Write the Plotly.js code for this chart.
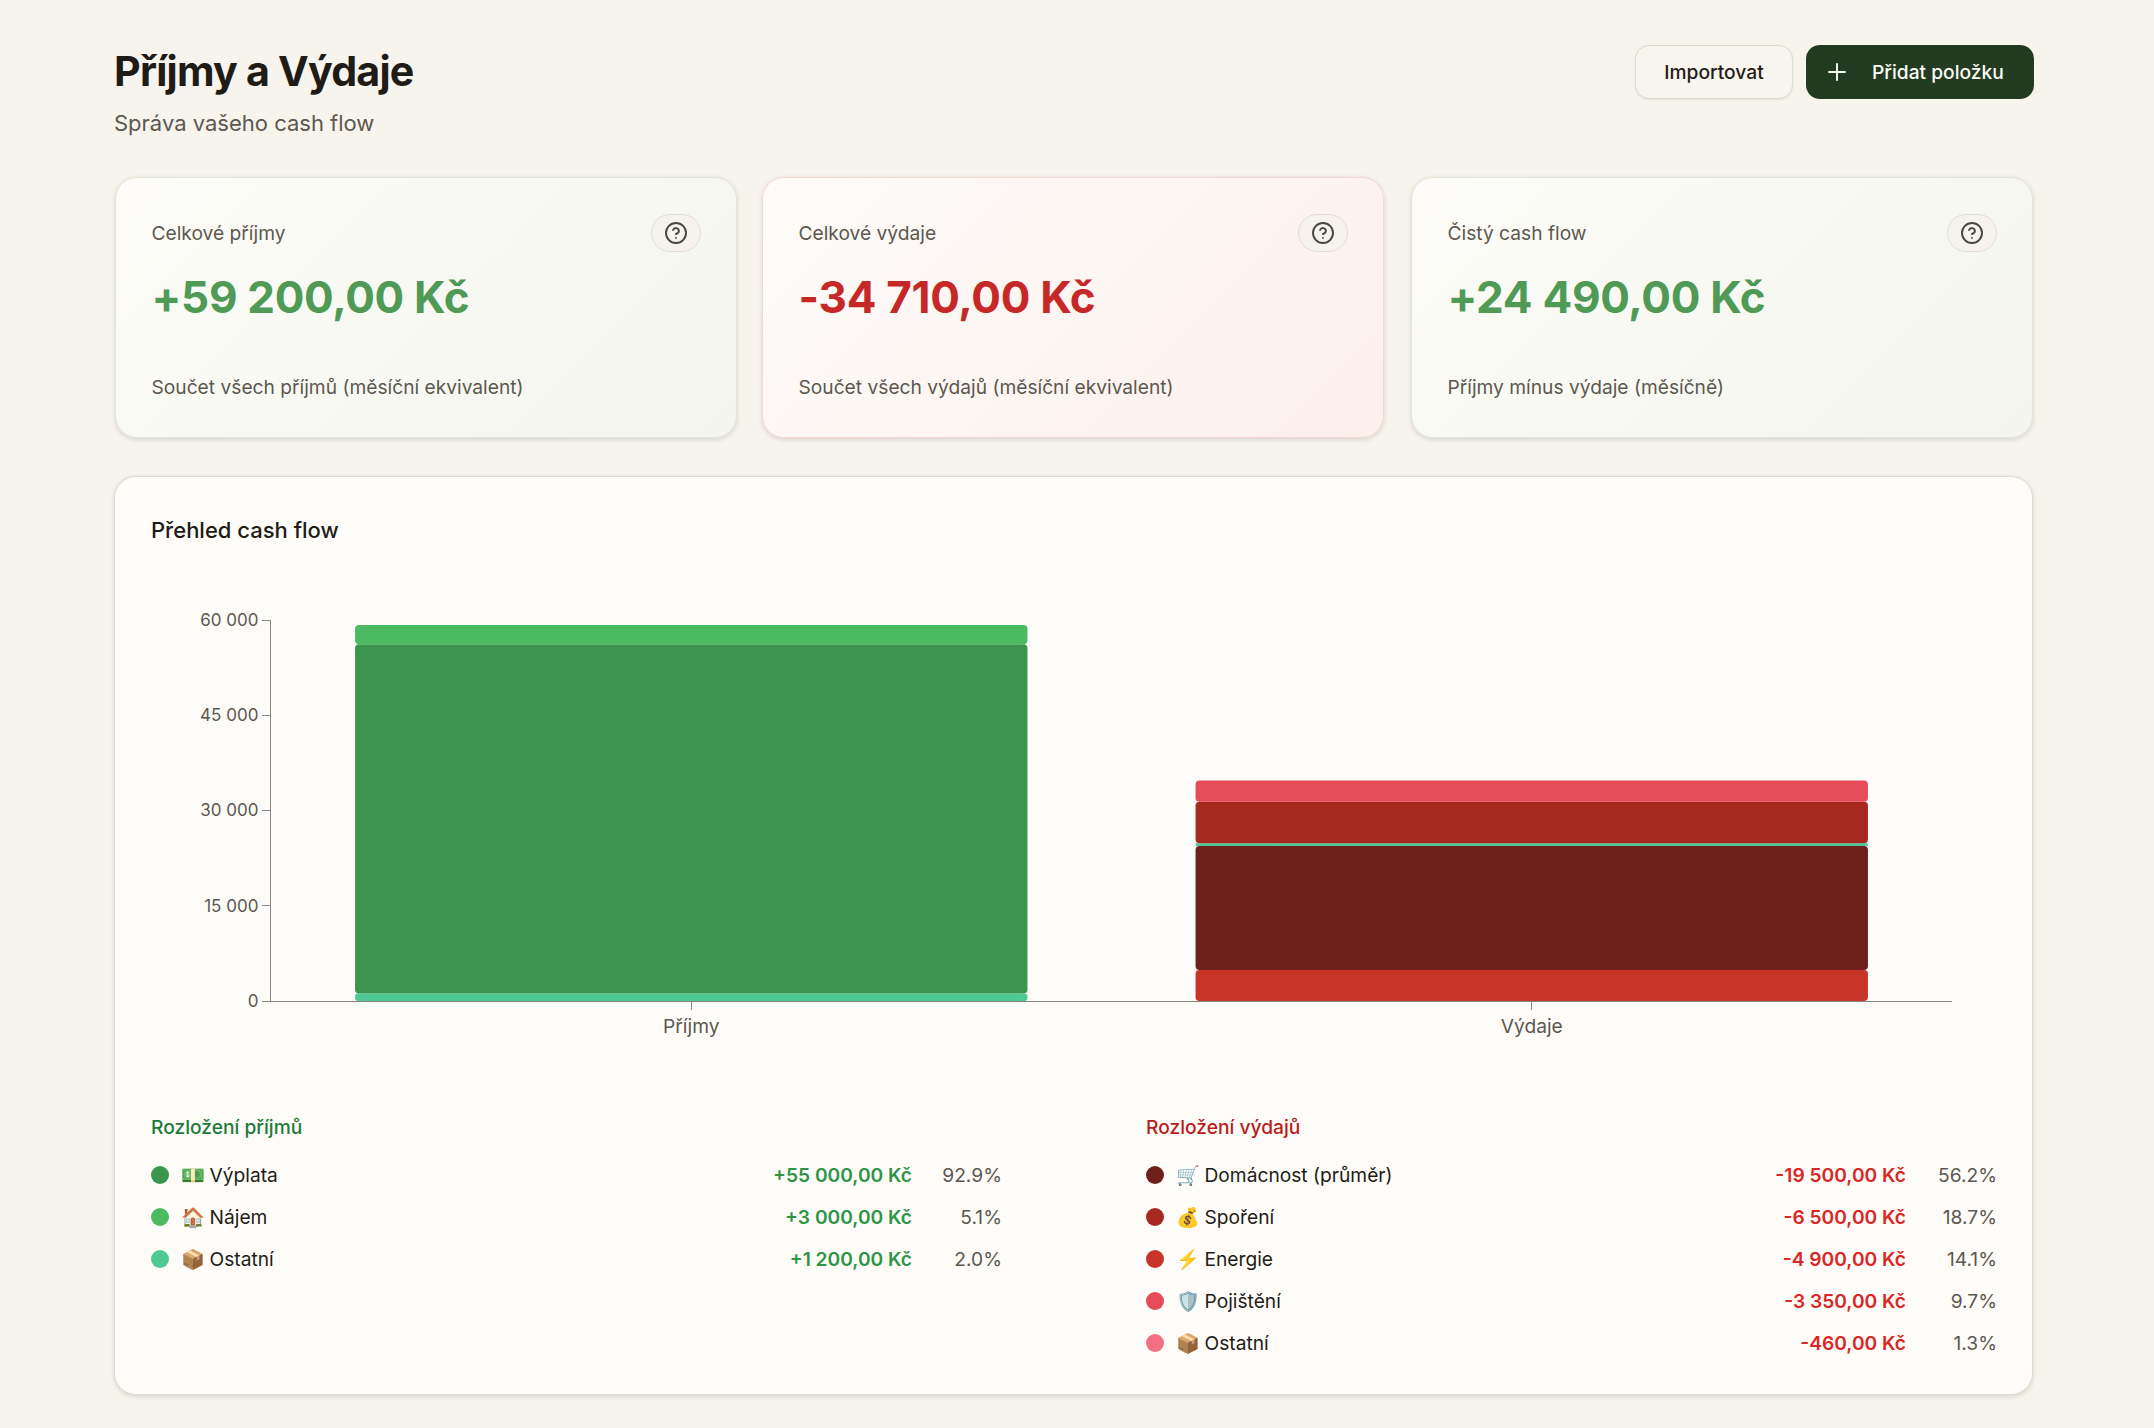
<!DOCTYPE html>
<html lang="cs"><head><meta charset="utf-8">
<script src="https://cdn.plot.ly/plotly-3.0.1.min.js"></script>
<style>
html,body{margin:0;padding:0;background:#f7f3ed;width:2154px;height:1428px;overflow:hidden;font-family:Inter,"Noto Sans",sans-serif;color:#1f1c17}
.a{position:absolute;white-space:nowrap}
.card{position:absolute;top:177px;height:261px;width:622px;box-sizing:border-box;border-radius:22px;box-shadow:0 1.4px 4px rgba(60,50,30,.14)}
.g{background:linear-gradient(135deg,#fdfcf8 0%,#f3f5ee 100%);border:1.4px solid #dfe6da}
.r{background:linear-gradient(135deg,#fdfbf8 0%,#fcf0ed 100%);border:1.4px solid #f4d7d4}
.main{position:absolute;left:114px;top:476px;width:1919px;height:919px;box-sizing:border-box;background:#fdfcf8;border:1.4px solid #dfdbd3;border-radius:22px;box-shadow:0 1.4px 4px rgba(60,50,30,.14)}
.lab{font-size:19.2px;line-height:26px;color:#5c5850}
.val{font-size:44px;line-height:56px;font-weight:700;letter-spacing:-.3px}
.help{position:absolute;top:214px;width:50px;height:38px;box-sizing:border-box;border-radius:19px;background:#f6f2ec;border:1.4px solid #e3ded6;display:flex;align-items:center;justify-content:center}
.btn{position:absolute;top:45px;height:54px;box-sizing:border-box;border-radius:14px;font-size:19.2px;font-weight:500;line-height:52px}
.dot{position:absolute;width:18px;height:18px;border-radius:50%}
.row{font-size:19.2px;line-height:26px}
.amt{font-size:19.2px;line-height:26px;font-weight:600;text-align:right}
.pct{font-size:19.2px;line-height:26px;color:#5c5850;text-align:right}
#plot{position:absolute;left:114px;top:560px;width:1919px;height:500px}
</style></head><body>
<div class="a" style="left:114px;top:43px;font-size:41.2px;line-height:56px;font-weight:700;letter-spacing:-.8px">Příjmy a Výdaje</div>
<div class="a" style="left:114px;top:108px;font-size:22px;line-height:30px;color:#5c5850">Správa vašeho cash flow</div>
<div class="btn" style="left:1635px;width:158px;background:#f8f4ee;border:1.4px solid #dfdad2;box-shadow:0 1px 2px rgba(60,50,30,.08);text-align:center">Importovat</div>
<div class="btn" style="left:1806px;width:228px;background:#233b20;color:#fdfcf8;line-height:54px"><svg style="position:absolute;left:20px;top:16px" width="22" height="22" viewBox="0 0 22 22" fill="none" stroke="#fdfcf8" stroke-width="1.9" stroke-linecap="round"><path d="M11 3V19M3 11H19"/></svg><span style="position:absolute;left:66px">Přidat položku</span></div>
<div id="cards"></div>
<div class="main"></div>
<div class="a" style="left:151px;top:515px;font-size:22px;line-height:30px;font-weight:500">Přehled cash flow</div>
<div id="plot"></div>
<div id="legend"></div>
<script>
// cards
var cardTitles = ["Celkové příjmy","Celkové výdaje","Čistý cash flow"];
var cardValues = ["+59 200,00 Kč","-34 710,00 Kč","+24 490,00 Kč"];
var cardNotes = ["Součet všech příjmů (měsíční ekvivalent)","Součet všech výdajů (měsíční ekvivalent)","Příjmy mínus výdaje (měsíčně)"];
var cardTone = ["g","r","g"];
var cardColor = ["#4f9a55","#c62828","#4f9a55"];
var cardLeft = [115,762,1411];
// chart
var categories = ["Příjmy","Výdaje"];
var seriesNames = ["Ostatní","Výplata","Nájem","Energie","Domácnost (průměr)","Ostatní","Spoření","Pojištění"];
var seriesCategory = ["Příjmy","Příjmy","Příjmy","Výdaje","Výdaje","Výdaje","Výdaje","Výdaje"];
var seriesValues = [1200,55000,3000,4900,19500,460,6500,3350];
var seriesColors = ["#4fc994","#3c954e","#4bba60","#c93428","#6e211c","#4fc994","#a5291f","#e64b59"];
var yTicks = [0,15000,30000,45000,60000];
var yTickLabels = ["0","15 000","30 000","45 000","60 000"];
// legends
var incomeIcons = ["💵","🏠","📦"];
var incomeNames = ["Výplata","Nájem","Ostatní"];
var incomeAmounts = ["+55 000,00 Kč","+3 000,00 Kč","+1 200,00 Kč"];
var incomePct = ["92.9%","5.1%","2.0%"];
var incomeDots = ["#3c954e","#4bba60","#4fc994"];
var expenseIcons = ["🛒","💰","⚡","🛡️","📦"];
var expenseNames = ["Domácnost (průměr)","Spoření","Energie","Pojištění","Ostatní"];
var expenseAmounts = ["-19 500,00 Kč","-6 500,00 Kč","-4 900,00 Kč","-3 350,00 Kč","-460,00 Kč"];
var expensePct = ["56.2%","18.7%","14.1%","9.7%","1.3%"];
var expenseDots = ["#6e211c","#a5291f","#c93428","#e64b59","#f27083"];

function el(cls,style,html,parent){var d=document.createElement('div');d.className=cls;d.style.cssText=style;d.innerHTML=html;(parent||document.body).appendChild(d);return d;}
var cards=document.getElementById('cards');
cardTitles.forEach(function(t,i){
  var L=cardLeft[i];
  el('card '+cardTone[i],'left:'+L+'px','',cards);
  el('a lab','left:'+(L+36.5)+'px;top:220px',t,cards);
  el('a val','left:'+(L+36.5)+'px;top:269px;color:'+cardColor[i],cardValues[i],cards);
  el('a lab','left:'+(L+36.5)+'px;top:374px',cardNotes[i],cards);
  el('help','left:'+(L+536)+'px','<svg width="24" height="24" viewBox="0 0 24 24" fill="none" stroke="#4a463f" stroke-width="1.9" stroke-linecap="round" stroke-linejoin="round"><circle cx="12" cy="12" r="10"/><path d="M9.1 9a3 3 0 0 1 5.8 1c0 2-3 3-3 3"/><path d="M12 17h.01"/></svg>',cards);
});
var lg=document.getElementById('legend');
function legend(x,rightAmt,rightPct,head,headColor,icons,names,amts,pcts,dots,amtColor){
  el('a','left:'+x+'px;top:1114px;font-size:19.2px;line-height:26px;font-weight:500;color:'+headColor,head,lg);
  names.forEach(function(n,i){
    var cy=1175+i*42.1;
    el('dot','left:'+x+'px;top:'+(cy-9)+'px;background:'+dots[i],'',lg);
    el('a row','left:'+(x+29)+'px;top:'+(cy-13)+'px;width:26px;text-align:center',icons[i],lg);
    el('a row','left:'+(x+58.5)+'px;top:'+(cy-13)+'px',n,lg);
    el('a amt','left:'+(rightAmt-300)+'px;width:300px;top:'+(cy-13)+'px;color:'+amtColor,amts[i],lg);
    el('a pct','left:'+(rightPct-100)+'px;width:100px;top:'+(cy-13)+'px',pcts[i],lg);
  });
}
legend(151,912,1002,'Rozložení příjmů','#1f7a3a',incomeIcons,incomeNames,incomeAmounts,incomePct,incomeDots,'#2e9547');
legend(1146,1906,1997,'Rozložení výdajů','#b91c1c',expenseIcons,expenseNames,expenseAmounts,expensePct,expenseDots,'#dc2626');

var running={}; var traces=[];
seriesNames.forEach(function(n,i){
  var c=seriesCategory[i]; var b=running[c]||0; running[c]=b+seriesValues[i];
  traces.push({type:'bar',name:n,x:[c],y:[seriesValues[i]],base:[b],marker:{color:seriesColors[i],cornerradius:4,line:{width:0}},showlegend:false,hoverinfo:'x+y+name'});
});
var axisColor='#8a8780',tickFont={family:'Inter, sans-serif',size:17,color:'#5c5850'};
Plotly.newPlot('plot',traces,{
  width:1919,height:500,margin:{l:157,r:81,t:60,b:59},
  barmode:'overlay',bargap:0.2,
  paper_bgcolor:'rgba(0,0,0,0)',plot_bgcolor:'rgba(0,0,0,0)',
  xaxis:{type:'category',categories:categories,categoryorder:'array',categoryarray:categories,range:[-0.5,1.5],showgrid:false,zeroline:false,showline:true,linecolor:axisColor,linewidth:1.4,ticks:'outside',ticklen:8,tickwidth:1.4,tickcolor:axisColor,tickfont:{family:'Inter, sans-serif',size:19.2,color:'#5c5850'}},
  yaxis:{range:[0,60000],tickmode:'array',tickvals:yTicks,ticktext:yTickLabels,showgrid:false,zeroline:false,showline:true,linecolor:axisColor,linewidth:1.4,ticks:'outside',ticklen:8,tickwidth:1.4,tickcolor:axisColor,tickfont:tickFont}
},{displayModeBar:false,responsive:false});
</script>
</body></html>
